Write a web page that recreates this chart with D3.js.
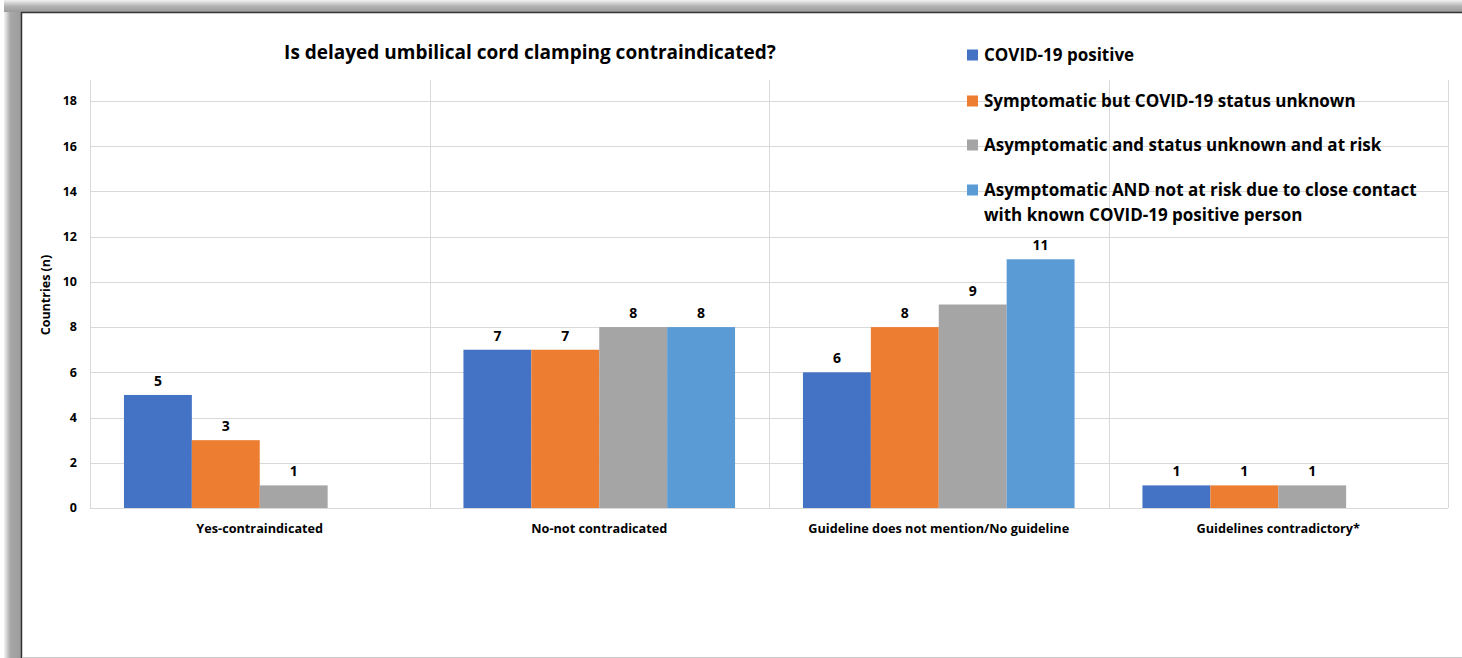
<!DOCTYPE html>
<html>
<head>
<meta charset="utf-8">
<script src="https://cdn.jsdelivr.net/npm/d3@7"></script>
<style>
  body { margin: 0; background: #fff; }
  text { font-family: "Open Sans", Lato, sans-serif; font-weight: bold; fill: #000; }
</style>
</head>
<body>
<div id="chart"></div>
<script>
// chart data
const categories = ["Yes-contraindicated", "No-not contradicated", "Guideline does not mention/No guideline", "Guidelines contradictory*"];
const seriesNames = ["COVID-19 positive", "Symptomatic but COVID-19 status unknown", "Asymptomatic and status unknown and at risk", "Asymptomatic AND not at risk due to close contact with known COVID-19 positive person"];
const covidPositive = [5, 7, 6, 1];
const symptomaticUnknown = [3, 7, 8, 1];
const asymptomaticAtRisk = [1, 8, 9, 1];
const asymptomaticNotAtRisk = [null, 8, 11, null];
const yTicks = [0, 2, 4, 6, 8, 10, 12, 14, 16, 18];
const seriesColors = ["#4472C4", "#ED7D31", "#A5A5A5", "#5B9BD5"];

const seriesValues = [covidPositive, symptomaticUnknown, asymptomaticAtRisk, asymptomaticNotAtRisk];

const W = 1462, H = 658;
const plot = { left: 90, right: 1448, top: 80, bottom: 508 };

const svg = d3.select("#chart").append("svg")
  .attr("width", W).attr("height", H);

// frame with shadow like the pasted picture
const defs = svg.append("defs");
const gl = defs.append("linearGradient").attr("id", "shadowL").attr("x1", 0).attr("x2", 1);
gl.append("stop").attr("offset", 0).attr("stop-color", "#f4f4f4");
gl.append("stop").attr("offset", 0.35).attr("stop-color", "#a8a8a8");
gl.append("stop").attr("offset", 1).attr("stop-color", "#9a9a9a");
const gt = defs.append("linearGradient").attr("id", "shadowT").attr("x1", 0).attr("x2", 0).attr("y1", 0).attr("y2", 1);
gt.append("stop").attr("offset", 0).attr("stop-color", "#f2f2f2");
gt.append("stop").attr("offset", 0.5).attr("stop-color", "#b4b4b4");
gt.append("stop").attr("offset", 1).attr("stop-color", "#9a9a9a");

svg.append("rect").attr("x", 4).attr("y", 0).attr("width", 18).attr("height", H).attr("fill", "url(#shadowL)");
svg.append("rect").attr("x", 4).attr("y", 0).attr("width", W - 4).attr("height", 12).attr("fill", "url(#shadowT)");
svg.append("rect").attr("x", 22).attr("y", 13).attr("width", W - 22).attr("height", H - 14).attr("fill", "#fff");
svg.append("line").attr("x1", 21.5).attr("x2", 21.5).attr("y1", 12).attr("y2", H).attr("stroke", "#333").attr("stroke-width", 1.5);
svg.append("line").attr("x1", 21).attr("x2", W).attr("y1", 12.5).attr("y2", 12.5).attr("stroke", "#333").attr("stroke-width", 1.5);
svg.append("line").attr("x1", 22).attr("x2", W).attr("y1", H - 0.5).attr("y2", H - 0.5).attr("stroke", "#c8c8c8");

// scales
const x0 = d3.scaleBand().domain(categories).range([plot.left, plot.right])
  .paddingInner(0.2).paddingOuter(0.1);
const x1 = d3.scaleBand().domain(d3.range(seriesNames.length)).range([0, x0.bandwidth()]);
const y = d3.scaleLinear().domain([0, 18]).range([plot.bottom, 101]);

// horizontal gridlines
svg.append("g").selectAll("line").data(yTicks).join("line")
  .attr("x1", plot.left).attr("x2", plot.right)
  .attr("y1", d => Math.round(y(d)) + 0.5).attr("y2", d => Math.round(y(d)) + 0.5)
  .attr("stroke", "#d9d9d9").attr("stroke-width", 1);

// vertical gridlines between categories
const step = x0.step();
const vlines = [plot.left].concat(categories.map(c => x0(c) - x0.paddingOuter() * step + step));
svg.append("g").selectAll("line").data(vlines).join("line")
  .attr("x1", d => Math.round(d) + 0.5).attr("x2", d => Math.round(d) + 0.5)
  .attr("y1", plot.top).attr("y2", plot.bottom)
  .attr("stroke", "#d9d9d9").attr("stroke-width", 1);

// y axis tick labels
svg.append("g").selectAll("text").data(yTicks).join("text")
  .attr("x", 77).attr("y", d => y(d)).attr("dy", "0.35em")
  .attr("text-anchor", "end").attr("font-size", 12.5)
  .text(d => d);

// y axis title
svg.append("text")
  .attr("transform", `translate(50,${295}) rotate(-90)`)
  .attr("text-anchor", "middle").attr("font-size", 12.5)
  .text("Countries (n)");

// category labels
svg.append("g").selectAll("text").data(categories).join("text")
  .attr("x", d => x0(d) + x0.bandwidth() / 2).attr("y", 533)
  .attr("text-anchor", "middle").attr("font-size", 12.7)
  .text(d => d);

// bars
const rows = categories.map((c, i) => ({ cat: c, vals: seriesValues.map(s => s[i]) }));
const groups = svg.append("g").selectAll("g").data(rows).join("g")
  .attr("transform", d => `translate(${x0(d.cat)},0)`);

groups.selectAll("rect")
  .data(d => d.vals.map((v, k) => ({ v, k })).filter(e => e.v !== null))
  .join("rect")
  .attr("x", d => x1(d.k)).attr("width", x1.bandwidth())
  .attr("y", d => y(d.v)).attr("height", d => y(0) - y(d.v))
  .attr("fill", d => seriesColors[d.k]);

groups.selectAll("text")
  .data(d => d.vals.map((v, k) => ({ v, k })).filter(e => e.v !== null))
  .join("text")
  .attr("x", d => x1(d.k) + x1.bandwidth() / 2)
  .attr("y", d => y(d.v) - 9)
  .attr("text-anchor", "middle").attr("font-size", 14)
  .text(d => d.v);

// title
svg.append("text")
  .attr("x", 530).attr("y", 59)
  .attr("text-anchor", "middle").attr("font-size", 19)
  .text("Is delayed umbilical cord clamping contraindicated?");

// legend
const legendLines = [
  ["COVID-19 positive"],
  ["Symptomatic but COVID-19 status unknown"],
  ["Asymptomatic and status unknown and at risk"],
  ["Asymptomatic AND not at risk due to close contact", "with known COVID-19 positive person"]
];
const legendY = [55, 101, 145, 190];
const legend = svg.append("g").selectAll("g").data(seriesNames).join("g")
  .attr("transform", (d, i) => `translate(967,${legendY[i]})`);
legend.append("rect")
  .attr("x", 0).attr("y", -5.5).attr("width", 11).attr("height", 11)
  .attr("fill", (d, i) => seriesColors[i]);
legend.append("text")
  .attr("x", 17).attr("y", 0).attr("font-size", 17)
  .selectAll("tspan").data((d, i) => legendLines[i]).join("tspan")
  .attr("x", 17).attr("dy", (d, j) => j === 0 ? "0.35em" : "1.5em")
  .text(d => d);
</script>
</body>
</html>
